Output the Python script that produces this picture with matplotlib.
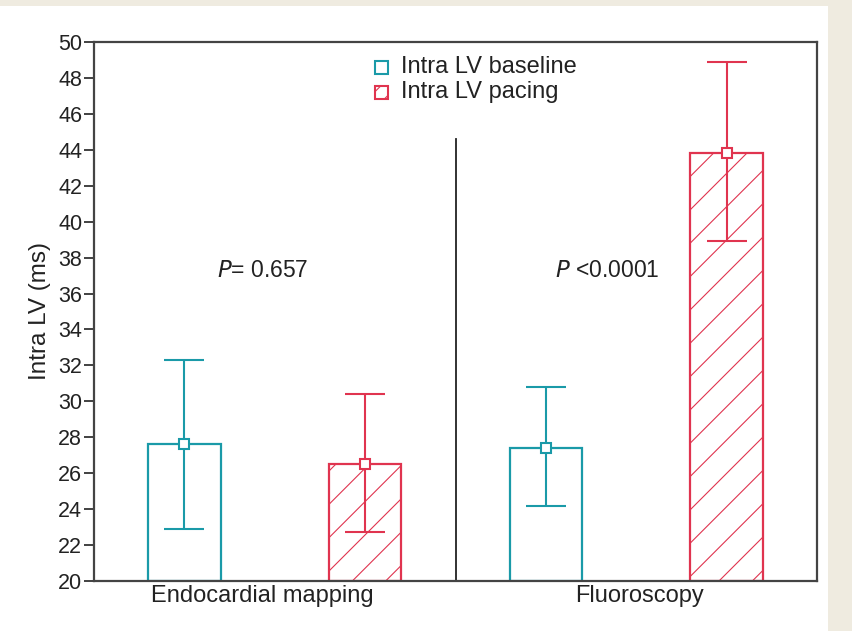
import matplotlib.pyplot as plt
from matplotlib.patches import Rectangle

plt.rcParams['font.family'] = ['Liberation Sans', 'DejaVu Sans']
plt.rcParams['hatch.linewidth'] = 0.8

groups = ['Endocardial mapping', 'Fluoroscopy']
series = ['Intra LV baseline', 'Intra LV pacing']
means = [[27.6, 27.4], [26.5, 43.8]]
err_hi = [[32.3, 30.8], [30.4, 48.9]]
err_lo = [[22.9, 24.2], [22.7, 38.9]]
p_labels = ['= 0.657', ' <0.0001']
colors = ['#1a9aa8', '#e0344f']
hatches = [None, '/']

fig = plt.figure(figsize=(8.52, 6.31), dpi=100, facecolor='#efebe0')
fig.patches.append(Rectangle((0, 0), 828 / 852, 1 - 6 / 631, transform=fig.transFigure,
                             facecolor='white', edgecolor='none', zorder=-10))
ax = fig.add_axes([94 / 852, 50 / 631, 723 / 852, 539 / 631])

for s in range(2):
    for g in range(2):
        x = g * 2 + s + 0.5
        m = means[s][g]
        ax.bar(x, m - 20, bottom=20, width=0.4, facecolor='white', edgecolor=colors[s],
               hatch=hatches[s], linewidth=1.6, zorder=2)
        ax.errorbar(x, m, yerr=[[m - err_lo[s][g]], [err_hi[s][g] - m]], fmt='s',
                    color=colors[s], mfc='white', mec=colors[s], ms=7, mew=1.5,
                    elinewidth=1.5, capsize=14.5, capthick=1.5, zorder=3)

ax.plot([2, 2], [44.6, 20], color='#222222', lw=1.3, zorder=1)

for g in range(2):
    ax.text(g * 2 + 0.93 - 0.09 * g, 37.3, r'$P$' + p_labels[g], fontsize=16.5,
            ha='center', va='center', color='#222222')

# legend drawn by hand
for s in range(2):
    y = 48.6 - s * 1.4
    ax.add_patch(Rectangle((1.555, y - 0.36), 0.072, 0.72, facecolor='white',
                           edgecolor=colors[s], hatch='//' if hatches[s] else None,
                           lw=1.5, zorder=3))
    ax.text(1.70, y, series[s], fontsize=17, va='center', ha='left', color='#222222')

ax.set_xlim(0, 4)
ax.set_ylim(20, 50)
ax.set_yticks(range(20, 51, 2))
ax.set_xticks([0.93, 3.02])
ax.set_xticklabels(groups, fontsize=17, color='#222222')
ax.tick_params(axis='x', length=0, pad=3)
ax.tick_params(axis='y', direction='out', length=7, width=1.3, labelsize=15.5,
               colors='#333333', labelcolor='#222222', pad=1.5)
ax.set_ylabel('Intra LV (ms)', fontsize=17.5, color='#222222', labelpad=5)
for sp in ax.spines.values():
    sp.set_linewidth(1.6)
    sp.set_color('#444444')

fig.savefig('out.png', dpi=100, facecolor=fig.get_facecolor())
